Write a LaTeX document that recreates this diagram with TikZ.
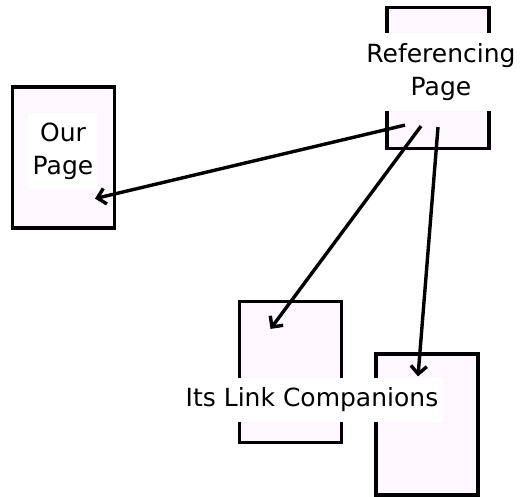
\documentclass[tikz,border=0pt]{standalone}
\usepackage{fontspec}
\setmainfont{DejaVu Sans}
\usetikzlibrary{arrows.meta}
\definecolor{pagepink}{RGB}{255,247,255}
\tikzset{
  >={Straight Barb[length=8pt,width=16pt]},
}
\tikzstyle{page}=[draw,line width=3.2pt,fill=pagepink,minimum width=102pt,minimum height=141pt,inner sep=0pt]
\tikzstyle{pagetext}=[fill=white,inner xsep=5pt,inner ysep=10pt,align=center,font=\fontsize{25}{33}\selectfont]
\tikzstyle{link}=[line width=3.4pt,->]

\begin{document}
\begin{tikzpicture}[x=1pt,y=-1pt]
    \useasboundingbox (0,0) rectangle (522,497);
    % the pages
    \node[page] (our) at (63.5,157.5) {};
    \node[page] (ref) at (438,78) {};
    \node[page] (compa) at (290.5,372) {};
    \node[page] (compb) at (427,424.5) {};

    \node[pagetext] (ourtext) at (63,151) {Our\\Page};
    \node[pagetext] (reftext) at (441,72) {Referencing\\Page};
    \node[pagetext] (comptext) at (312,400) {Its Link Companions};

    % ends of the links
    \coordinate (refa) at ([shift={(-33,-25)}]ref.south);
    \coordinate (refb) at ([shift={(-17,-24)}]ref.south);
    \coordinate (refc) at ([shift={(0,-23)}]ref.south);
    \coordinate (ourend) at ([shift={(31.5,-31)}]our.south);
    \coordinate (compaend) at ([shift={(-20,29)}]compa.north);
    \coordinate (compbend) at ([shift={(-9,24)}]compb.north);

    \draw[link] (refa) -- (ourend);
    \draw[link] (refb) -- (compaend);
    \draw[link] (refc) -- (compbend);
  \end{tikzpicture}
\end{document}
